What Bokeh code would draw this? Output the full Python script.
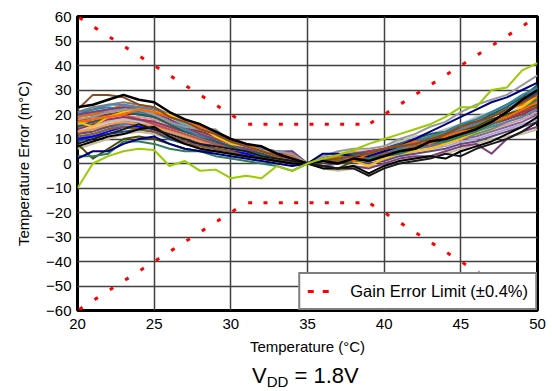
from bokeh.plotting import figure
from bokeh.models import Legend, LegendItem, FixedTicker, Range1d, Div
from bokeh.layouts import column
from bokeh.embed import file_html
from bokeh.resources import INLINE

FONT = "Liberation Sans"

temps = list(range(20, 51))
x_ticks = [20, 25, 30, 35, 40, 45, 50]
y_ticks = [-60, -50, -40, -30, -20, -10, 0, 10, 20, 30, 40, 50, 60]

gain_upper = [60, 56, 52, 48, 44, 40, 36, 32, 28, 24, 20, 16, 16, 16, 16, 16,
              16, 16, 16, 16, 20, 24, 28, 32, 36, 40, 44, 48, 52, 56, 60]
gain_lower = [-60, -56, -52, -48, -44, -40, -36, -32, -28, -24, -20, -16, -16, -16, -16, -16,
              -16, -16, -16, -16, -20, -24, -28, -32, -36, -40, -44, -48, -52, -56, -60]

lime = [-10, 0, 3, 5, 6, 5.5, -1, 1, -3, -2.5, -6, -5, -6, -1, -3, 0, 2, 3.5, 5.5, 8, 10, 12, 14, 16, 19, 23, 23, 30, 31, 38, 41]
black1 = [23, 24, 26, 28, 26, 25, 21, 18, 16, 13, 10, 8, 7, 4, 2, 0, 1, 0, 2, 1, 3, 5, 6, 9, 10, 12, 14, 17, 21, 26, 30]
brown1 = [22, 28, 28, 27, 24, 23, 19, 17, 14, 12, 9, 7, 5, 3, 2, 0, 1, 2, 3, 4, 6, 7, 8, 10, 12, 15, 17, 19, 22, 25, 28]
orange1 = [17, 18, 19, 20, 22, 21, 19, 17, 15, 13, 10, 8, 5, 3, 2, 0, 2, 3, 1, 4, 6, 7, 9, 8, 11, 13, 14, 17, 19, 22, 25]
navy1 = [2, 5, 5, 8, 10, 11, 8, 6, 5, 4, 3, 2, 1, 0, -1, 0, 4, 4, 3, 3, 5, 7, 10, 13, 16, 19, 22, 25, 27, 30, 33]
gray1 = [18, 19, 21, 22, 22, 20, 17, 15, 14, 14, 9, 7, 5, 5, 4, 0, 3, 5, 6, 6, 7, 10, 12, 15, 17, 21, 24, 26, 28, 32, 36]
yellow1 = [17, 15, 19, 21, 22, 21, 20, 17, 15, 11, 8, 7, 5, 3, 2, 0, 1, 2, 1, -1, 2, 4, 5, 6, 8, 10, 13, 16, 19, 23, 28]
purple1 = [20, 21, 22, 23, 22, 21, 18, 15, 12, 10, 8, 6, 5, 4, 5, 0, -1, -2, -1, -2, 0, 2, 3, 3, 5, 7, 8, 4, 10, 13, 15]
teal1 = [20, 22, 23, 22, 21, 20, 17, 14, 11, 10, 8, 5, 3, 2, 2, 0, 2, 3, 3, 4, 5, 6, 9, 11, 13, 16, 18, 21, 24, 28, 31]
dgreen1 = [3, 3, 4, 9, 9, 8, 6, 5, 5, 3, 2, 1, 0, -1, -3, 0, 1, 2, 1, 2, 3, 4, 6, 8, 9, 11, 13, 16, 19, 22, 26]
olive1 = [8, 2, 6, 10, 11, 10, 8, 6, 5, 5, 4, 3, 2, 1, 0, 0, -1, -2, 1, 2, 3, 5, 6, 9, 11, 13, 15, 18, 20, 22, 24]
rose1 = [14, 16, 18, 19, 18, 17, 15, 13, 11, 9, 7, 5, 4, 3, 1, 0, 2, 3, 4, 5, 6, 8, 10, 9, 12, 14, 15, 17, 19, 21, 23]
redbrown1 = [18, 17, 19, 20, 18, 16, 14, 12, 10, 8, 7, 5, 3, 2, 1, 0, 2, 3, 4, 4, 5, 7, 8, 10, 11, 13, 16, 18, 20, 22, 25]
steel1 = [10, 12, 14, 16, 17, 16, 13, 11, 9, 8, 6, 4, 3, 2, 1, 0, 1, 1, 2, 3, 4, 5, 6, 8, 9, 11, 13, 15, 17, 19, 22]
blue1 = [10, 11, 13, 15, 15, 14, 11, 9, 8, 6, 5, 4, 2, 1, 0, 0, 3, 4, 3, 2, 4, 5, 6, 8, 10, 12, 14, 17, 21, 25, 28]
khaki1 = [6, 8, 10, 12, 13, 12, 10, 8, 6, 5, 4, 2, 1, 0, 0, 0, -2, -3, -2, -1, -1, 1, 2, 3, 4, 6, 8, 10, 11, 12, 14]
black2 = [7, 9, 11, 12, 14, 15, 11, 8, 6, 5, 4, 3, 2, 1, 0, 0, -2, -2, -1, -4, -1, 1, 2, 3, 2, 5, 7, 9, 12, 15, 19]
black3 = [8, 10, 12, 14, 16, 14, 12, 10, 8, 7, 6, 5, 3, 2, 1, 0, -1, -2, -2, -5, -2, 0, 1, 2, 4, 3, 6, 8, 10, 13, 17]
lgray1 = [13, 15, 17, 18, 17, 16, 14, 12, 10, 9, 9, 7, 5, 4, 3, 0, 3, 4, 5, 5, 6, 9, 11, 12, 14, 16, 19, 21, 24, 27, 30]
dteal1 = [15, 17, 19, 21, 20, 19, 16, 13, 11, 9, 7, 6, 4, 2, 1, 0, 2, 3, 4, 4, 6, 8, 10, 12, 13, 16, 17, 20, 23, 27, 32]
orange2 = [13, 14, 16, 17, 16, 15, 13, 11, 9, 7, 6, 5, 3, 2, 1, 0, 2, 3, 5, 4, 5, 6, 8, 9, 10, 12, 14, 17, 19, 21, 24]
violet1 = [19, 20, 21, 22, 21, 19, 17, 15, 13, 11, 9, 7, 6, 5, 5, 0, 2, 1, 3, 2, 3, 5, 6, 7, 8, 10, 11, 13, 15, 17, 20]
brown2 = [11, 12, 14, 15, 14, 13, 11, 9, 7, 6, 5, 3, 2, 1, 1, 0, 1, 1, 2, 3, 4, 5, 7, 9, 10, 12, 14, 16, 18, 21, 27]
pink1 = [16, 17, 18, 19, 19, 18, 16, 14, 12, 10, 8, 6, 4, 3, 2, 0, 2, 2, 3, 3, 4, 6, 7, 8, 9, 11, 12, 14, 16, 18, 21]
green2 = [12, 14, 15, 17, 18, 17, 15, 12, 10, 8, 7, 5, 3, 2, 1, 0, 1, 2, 2, 3, 3, 5, 6, 7, 9, 10, 12, 14, 17, 19, 22]
navy2 = [9, 11, 12, 13, 14, 13, 10, 8, 7, 6, 5, 4, 3, 2, 1, 0, 3, 3, 4, 4, 5, 7, 8, 10, 12, 14, 16, 19, 22, 25, 29]
slate1 = [21, 22, 24, 24, 23, 22, 20, 17, 15, 12, 9, 8, 6, 5, 4, 0, 1, 2, 3, 3, 5, 6, 8, 10, 11, 14, 16, 19, 22, 26, 30]
lavender1 = [15, 16, 17, 18, 18, 17, 15, 13, 11, 9, 7, 6, 4, 3, 3, 0, 1, 2, 2, 1, 2, 3, 5, 6, 7, 9, 10, 12, 14, 16, 18]
aqua1 = [19, 21, 22, 23, 23, 22, 19, 16, 13, 11, 9, 7, 5, 4, 3, 0, 2, 3, 3, 4, 5, 7, 8, 10, 12, 14, 16, 19, 22, 25, 29]
olivegreen1 = [16, 18, 20, 21, 21, 20, 17, 15, 12, 10, 8, 6, 5, 3, 2, 0, 1, 2, 3, 3, 4, 6, 8, 9, 11, 13, 15, 17, 20, 23, 26]
gray2 = [21, 23, 24, 25, 24, 23, 20, 17, 14, 12, 10, 8, 6, 4, 3, 0, 2, 3, 4, 4, 6, 8, 9, 11, 13, 15, 18, 21, 24, 27, 31]
orange3 = [19, 20, 22, 24, 23, 22, 20, 18, 16, 13, 10, 8, 6, 4, 3, 0, 1, 3, 3, 5, 6, 7, 9, 11, 12, 15, 17, 19, 22, 24, 27]
plum1 = [12, 13, 15, 16, 16, 15, 13, 11, 9, 8, 6, 5, 4, 3, 2, 0, -1, 0, 1, 0, 1, 3, 4, 5, 6, 8, 9, 11, 13, 15, 17]
maroon1 = [17, 19, 20, 21, 20, 19, 17, 15, 13, 11, 9, 7, 5, 4, 3, 0, 1, 2, 4, 4, 5, 6, 8, 9, 11, 13, 14, 16, 18, 20, 23]

series = [
    (khaki1, "#C4BD97"), (lavender1, "#B3A2C7"), (pink1, "#D99694"), (green2, "#77933C"),
    (plum1, "#604A7B"), (olivegreen1, "#9BBB59"), (aqua1, "#4BACC6"),
    (steel1, "#4F81BD"), (navy2, "#1F497D"), (blue1, "#0000FF"), (lgray1, "#C0C0C0"),
    (violet1, "#8064A2"), (brown2, "#8B5A2B"), (orange2, "#F79646"), (redbrown1, "#C0504D"),
    (maroon1, "#943634"), (gray2, "#7F7F7F"), (orange3, "#E46C0A"),
    (rose1, "#993366"), (slate1, "#5F7F9F"), (dteal1, "#215E5E"), (teal1, "#31859C"),
    (purple1, "#7F3F7F"), (yellow1, "#FFC000"), (gray1, "#999999"), (olive1, "#4D4D00"),
    (dgreen1, "#2E7D5B"), (navy1, "#000080"), (black2, "#000000"), (black3, "#1A1A1A"),
    (orange1, "#FF6600"), (brown1, "#8B4A1C"), (black1, "#000000"), (lime, "#99CC00"),
]

p = figure(width=552, height=360, output_backend="svg", toolbar_location=None,
           x_range=Range1d(20, 50), y_range=Range1d(-60, 60),
           min_border_left=77, min_border_right=15, min_border_top=16, min_border_bottom=50)
p.background_fill_color = "white"
p.border_fill_color = "white"

for ys, col in series:
    lw = 2.5 if ys is black1 else 2
    p.line(temps, ys, line_color=col, line_width=lw, line_join="round")

# gain error limit: one short dash at each 1 degree step
seg_x = [[temps[i], temps[i + 1]] for i in range(len(temps) - 1)]
seg_up = [[gain_upper[i], gain_upper[i + 1]] for i in range(len(temps) - 1)]
seg_lo = [[gain_lower[i], gain_lower[i + 1]] for i in range(len(temps) - 1)]
p.multi_line(xs=seg_x + seg_x, ys=seg_up + seg_lo, line_color="#FF0000",
             line_width=3, line_dash="4 200", line_dash_offset=-2)

# renderer used only for the legend sample (hidden)
legend_line = p.line(temps, gain_upper, line_color="#FF0000", line_width=3,
                     line_dash="6 9", visible=False)

p.xaxis.ticker = FixedTicker(ticks=x_ticks)
p.yaxis.ticker = FixedTicker(ticks=y_ticks)
p.xgrid.ticker = FixedTicker(ticks=x_ticks)
p.ygrid.ticker = FixedTicker(ticks=y_ticks)
for g in (p.xgrid, p.ygrid):
    g.grid_line_color = "#404040"
    g.grid_line_width = 1.5

for ax in (p.xaxis, p.yaxis):
    ax.axis_line_color = None
    ax.major_tick_out = 0
    ax.major_tick_in = 0
    ax.minor_tick_out = 0
    ax.minor_tick_in = 0
    ax.major_label_text_font = FONT
    ax.major_label_text_font_size = "15px"
    ax.major_label_text_color = "black"
    ax.axis_label_text_font = FONT
    ax.axis_label_text_font_size = "15px"
    ax.axis_label_text_font_style = "normal"
    ax.axis_label_text_color = "black"

p.xaxis.axis_label = "Temperature (°C)"
p.yaxis.axis_label = "Temperature Error (m°C)"
p.xaxis.major_label_standoff = 8
p.yaxis.major_label_standoff = 6
p.xaxis.axis_label_standoff = 6
p.yaxis.axis_label_standoff = 11

p.outline_line_color = "black"
p.outline_line_width = 3
p.outline_line_alpha = 1

legend = Legend(items=[LegendItem(label="Gain Error Limit (±0.4%)", renderers=[legend_line])],
                location="bottom_right", margin=0, padding=7, spacing=0,
                glyph_width=24, glyph_height=20, label_standoff=19,
                label_text_font=FONT, label_text_font_size="16.5px",
                label_text_color="black",
                border_line_color="black", border_line_width=2,
                background_fill_color="white", background_fill_alpha=1,
                inactive_fill_alpha=0)
p.add_layout(legend)

caption = Div(
    text=('<div style="font-family:\'Liberation Sans\'; font-size:22px; color:black; '
          'padding-left:252px; padding-top:5px; line-height:22px; white-space:nowrap;">'
          'V<span style="font-size:15px; position:relative; top:4px;">DD</span> = 1.8V</div>'),
    width=552, height=31, margin=(0, 0, 0, 0))

layout = column(p, caption, spacing=0)

open("out.html", "w").write(file_html(layout, INLINE))
